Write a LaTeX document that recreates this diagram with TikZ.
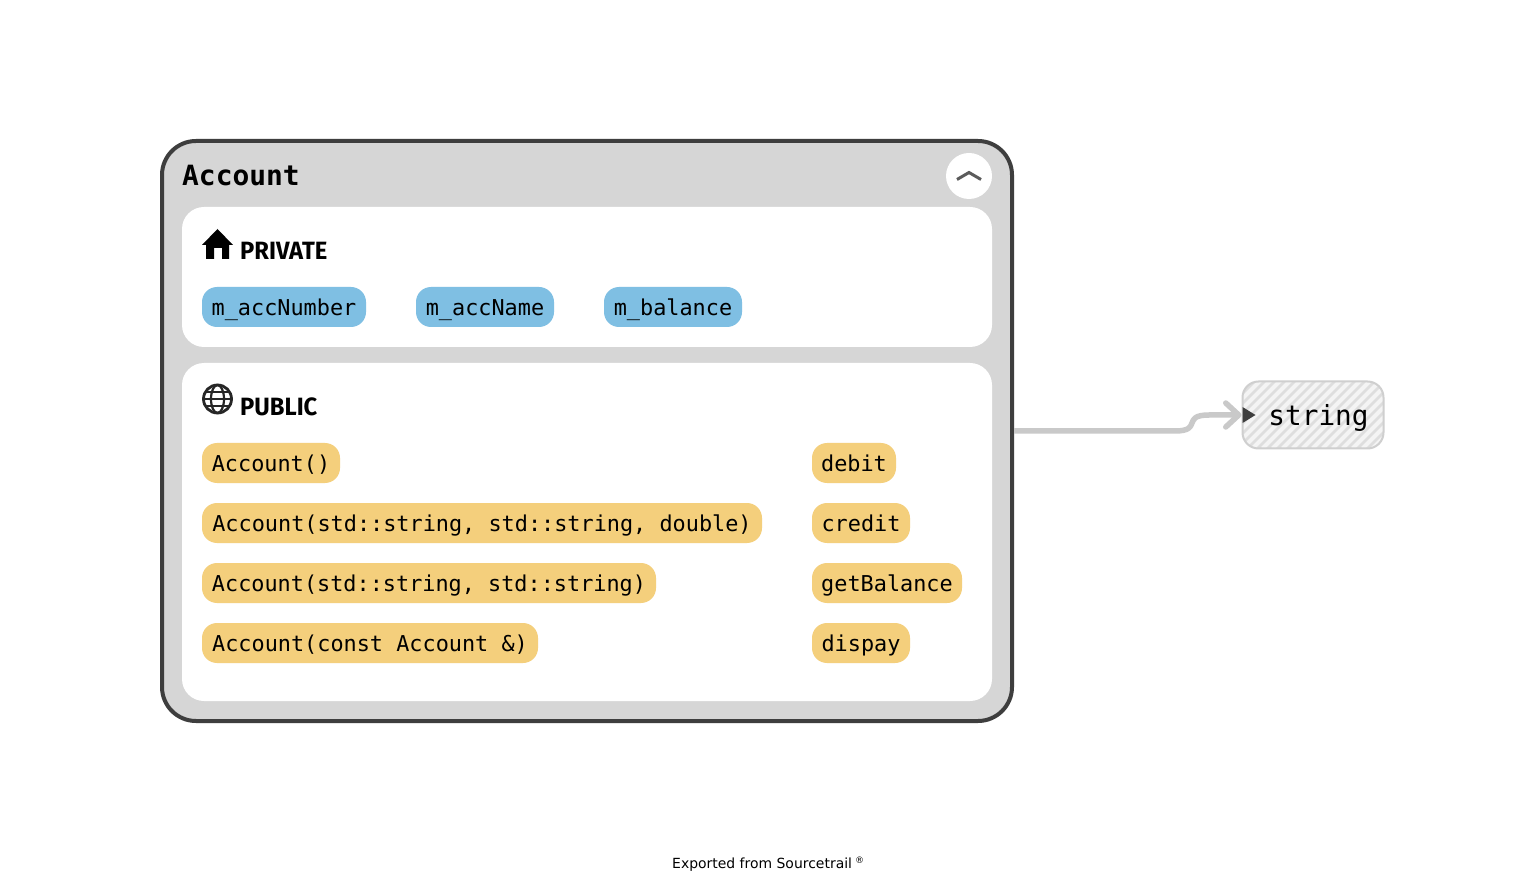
\documentclass[tikz,border=0pt]{standalone}
\usepackage{fontspec}
\setmainfont{DejaVu Sans}
\newfontfamily\codefont{DejaVu Sans Mono}
\newfontfamily\headfont{Fira Sans}
\usetikzlibrary{arrows.meta}
\definecolor{edgegray}{HTML}{C9C9C9}
\definecolor{panelgray}{HTML}{D6D6D6}
\definecolor{framedark}{HTML}{3E3E3E}
\definecolor{fieldblue}{HTML}{7FBFE3}
\definecolor{funcyellow}{HTML}{F4CF7C}
\definecolor{typefill}{HTML}{DEDEDE}
\definecolor{typeline}{HTML}{CFCFCF}
\tikzset{
  pill/.style={rounded corners=15pt,inner sep=0pt,minimum height=40pt,text height=16.5pt,text depth=0pt,
    font=\codefont\fontsize{21.85}{24}\selectfont,text=black},
  fieldpill/.style={pill,fill=fieldblue},
  funcpill/.style={pill,fill=funcyellow},
  panel/.style={fill=white,rounded corners=22pt,inner sep=0pt,minimum width=810pt},
  heading/.style={anchor=base west,inner sep=0pt,font=\headfont\bfseries\fontsize{25}{28}\selectfont,text=black},
  edgeline/.style={draw=edgegray,line width=5.5pt,line cap=butt,line join=round},
}
\begin{document}
\begin{tikzpicture}[x=1pt,y=-1pt]
\useasboundingbox[fill=white] (0,0) rectangle (1524,882);
% main box
\node[draw=framedark,fill=panelgray,line width=4pt,rounded corners=34pt,inner sep=0pt,
      minimum width=850pt,minimum height=580pt,outer sep=2pt] (acct) at (587,431) {};
\node[anchor=base west,inner sep=0pt,font=\codefont\bfseries\fontsize{27.9}{30}\selectfont] (title) at (182,186) {Account};
% collapse button
\node[circle,fill=white,inner sep=0pt,minimum size=46pt] (btn) at (969,176) {};
\draw[draw=framedark!85,line width=3pt] ([shift={(-12,3.5)}]btn.center) -- ([shift={(0,-3.5)}]btn.center) -- ([shift={(12,3.5)}]btn.center);
% panels
\node[panel,minimum height=140pt] (priv) at (587,277) {};
\node[panel,minimum height=338pt] (pub) at (587,532) {};
% private header
\fill[black] (217.5,229) -- (233,245) -- (229,245) -- (229,259) -- (222,259) -- (222,248) -- (214,248) -- (214,259) -- (206,259) -- (206,245) -- (202,245) -- cycle;
\node[heading] (privhead) at (240,260) {\scalebox{0.95}[1]{PRIVATE}};
% public header
\begin{scope}[draw=black!85,line width=2.8pt]
\draw (217.5,399) circle[radius=14];
\draw[line width=2.2pt] (217.5,399) ellipse[x radius=6.5,y radius=14];
\draw[line width=2.2pt] (203.5,399) -- (231.5,399);
\draw[line width=2.2pt] (205.5,392) -- (229.5,392) (205.5,406) -- (229.5,406);
\end{scope}
\node[heading] (pubhead) at (240,415.5) {\scalebox{0.95}[1]{PUBLIC}};
% fields
\node[fieldpill,minimum width=164pt] (f1) at (284,307) {m\_accNumber};
\node[fieldpill,minimum width=138pt] (f2) at (485,307) {m\_accName};
\node[fieldpill,minimum width=138pt] (f3) at (673,307) {m\_balance};
% functions
\node[funcpill,minimum width=138pt] (c1) at (271,463) {Account()};
\node[funcpill,minimum width=560pt] (c2) at (482,523) {Account(std::string, std::string, double)};
\node[funcpill,minimum width=454pt] (c3) at (429,583) {Account(std::string, std::string)};
\node[funcpill,minimum width=336pt] (c4) at (370,643) {Account(const Account \&)};
\node[funcpill,minimum width=84pt] (m1) at (854,463) {debit};
\node[funcpill,minimum width=98pt] (m2) at (861,523) {credit};
\node[funcpill,minimum width=150pt] (m3) at (887,583) {getBalance};
\node[funcpill,minimum width=98pt] (m4) at (861,643) {dispay};
% type node
\node[draw=typeline,fill=typefill,line width=2pt,rounded corners=16pt,inner sep=0pt,
      minimum width=141pt,minimum height=67pt,outer sep=1pt,text height=22pt,text depth=0pt,
      font=\codefont\fontsize{27.7}{30}\selectfont,
      path picture={
        \foreach \k in {-80,-70,...,230}
          \draw[white!65!typefill,line width=4pt]
            ([shift={(\k pt,0pt)}]path picture bounding box.south west) --
            ([shift={(\k pt+80pt,80pt)}]path picture bounding box.south west);
      }] (str) at (1313,415) {\hspace*{11pt}string};
% connector
\draw[edgeline,-{Straight Barb[round,length=13pt,width=24pt]}]
  (acct.east) -- (1175,431) .. controls (1203,431) and (1181,415) .. (1209,415) -- (str.west);
\fill[framedark] ([shift={(1,-8)}]str.west) -- ([shift={(14,0)}]str.west) -- ([shift={(1,8)}]str.west) -- cycle;
% footer
\node[anchor=base west,inner sep=0pt,font=\fontsize{13.95}{16}\selectfont] (foot) at (672,868) {Exported from Sourcetrail};
\node[anchor=base west,inner sep=0pt,font=\fontsize{9}{10}\selectfont] (reg) at (855,863) {®};
\end{tikzpicture}
\end{document}
